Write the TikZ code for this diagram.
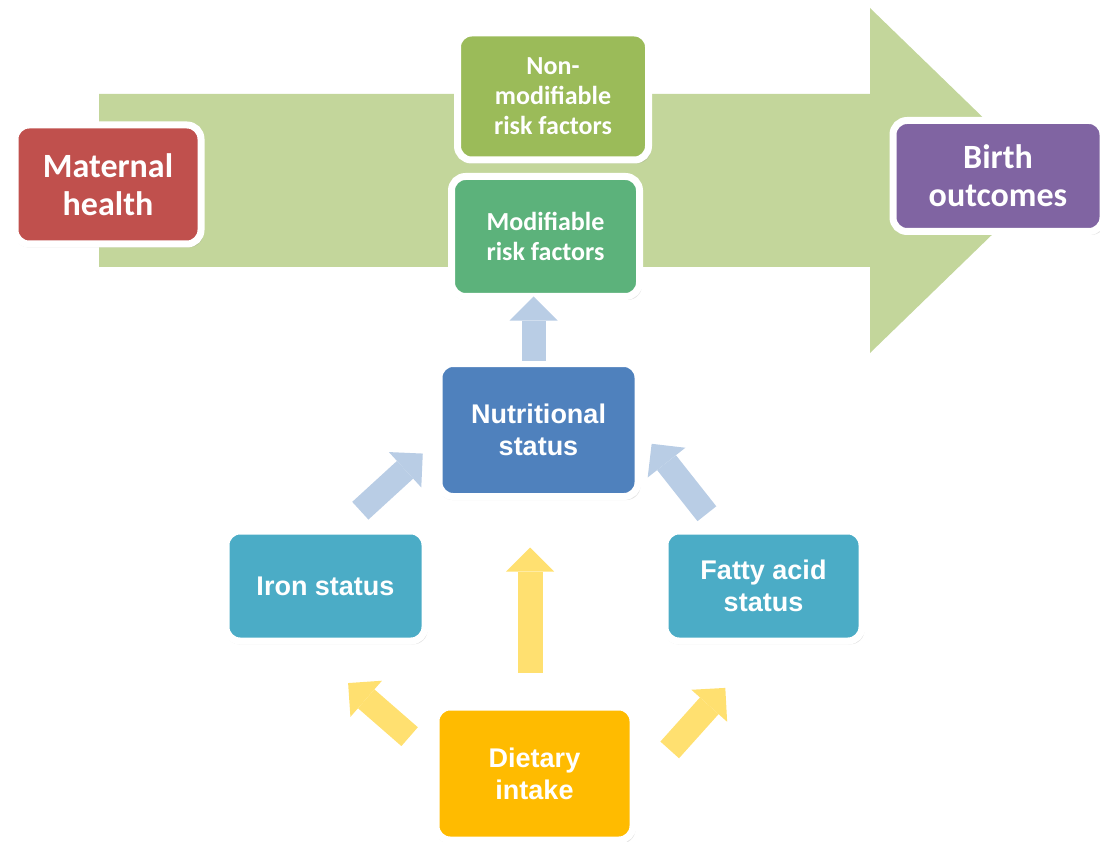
\documentclass[tikz,border=0pt]{standalone}
\usepackage{fontspec}
\usepackage{xcolor}
\usetikzlibrary{arrows.meta,shadows}
\newfontfamily\calfont{Carlito}
\newfontfamily\arfont{Liberation Sans}
\definecolor{bandgreen}{HTML}{C3D69B}
\definecolor{matred}{HTML}{C0504D}
\definecolor{nmgreen}{HTML}{9BBB59}
\definecolor{modgreen}{HTML}{5CB27B}
\definecolor{birthpurple}{HTML}{8064A2}
\definecolor{nutrblue}{HTML}{4F81BD}
\definecolor{statusteal}{HTML}{4BACC6}
\definecolor{dietorange}{HTML}{FFBB00}
\definecolor{arrowblue}{HTML}{B9CDE5}
\definecolor{arrowyellow}{HTML}{FFE070}

\begin{document}
\begin{tikzpicture}[x=1pt, y=-1pt,
    box/.style={rectangle, draw=white, line width=7pt, rounded corners=14pt,
                outer sep=0pt, inner sep=0pt, align=center, text=white,
                drop shadow={shadow xshift=1pt, shadow yshift=-2.5pt,
                             shadow scale=1.015, opacity=0.22}},
    bigbox/.style={box, font=\calfont\bfseries\fontsize{34}{38}\selectfont},
    topbox/.style={box, font=\calfont\bfseries\fontsize{26}{30}\selectfont},
    lowbox/.style={box, font=\arfont\bfseries\fontsize{27}{32}\selectfont},
    bluearrow/.style={draw=arrowblue, line width=24pt,
                      -{Triangle[width=48pt, length=24pt, line width=0pt 0 0]}},
    yellowarrow/.style={draw=arrowyellow, line width=25pt,
                        -{Triangle[width=48pt, length=24pt, line width=0pt 0 0]}},
  ]
    \useasboundingbox (0,0) rectangle (1100,842);

    % big arrow behind
    \fill[bandgreen] (99,94) -- (870,94) -- (870,8) -- (1048,180.5) -- (870,353)
        -- (870,267) -- (99,267) -- cycle;

    \node[bigbox, fill=matred, minimum width=186pt, minimum height=119pt] (maternal) at (108,184.5) {Maternal\\health};
    \node[topbox, fill=nmgreen, minimum width=191pt, minimum height=127pt] (nonmod) at (553,96.5) {Non-\\modifiable\\risk factors};
    \node[topbox, fill=modgreen, minimum width=188pt, minimum height=120pt] (mod) at (545.5,236.5) {Modifiable\\risk factors};
    \node[bigbox, fill=birthpurple, minimum width=210pt, minimum height=111pt] (birth) at (998,176) {Birth\\outcomes};
    \node[lowbox, fill=nutrblue, minimum width=199pt, minimum height=133pt] (nutr) at (538.5,430) {Nutritional\\status};
    \node[lowbox, fill=statusteal, minimum width=199pt, minimum height=110pt] (iron) at (325.5,586) {Iron status};
    \node[lowbox, fill=statusteal, minimum width=197pt, minimum height=110pt] (fatty) at (763.5,586) {Fatty acid\\status};
    \node[lowbox, fill=dietorange, minimum width=197pt, minimum height=133pt] (diet) at (534.5,773.5) {Dietary\\intake};

    \draw[bluearrow, shorten <=3pt] ([xshift=-5pt]nutr.north) -- ([xshift=-5pt]nutr.north |- mod.south);
    \draw[bluearrow, shorten <=30pt, shorten >=22pt] (iron.77) -- (nutr.185);
    \draw[bluearrow, shorten <=22pt, shorten >=22pt] (fatty.128) -- (nutr.2);
    \draw[yellowarrow, shorten <=34pt, shorten >=51pt] ([xshift=-4.5pt]diet.north) -- ([xshift=-4.5pt]diet.north |- nutr.south);
    \draw[yellowarrow, shorten <=35pt, shorten >=64pt] (diet.172) -- (iron.245);
    \draw[yellowarrow, shorten <=55pt, shorten >=63pt] (diet.350) -- (fatty.274);
  \end{tikzpicture}
\end{document}
